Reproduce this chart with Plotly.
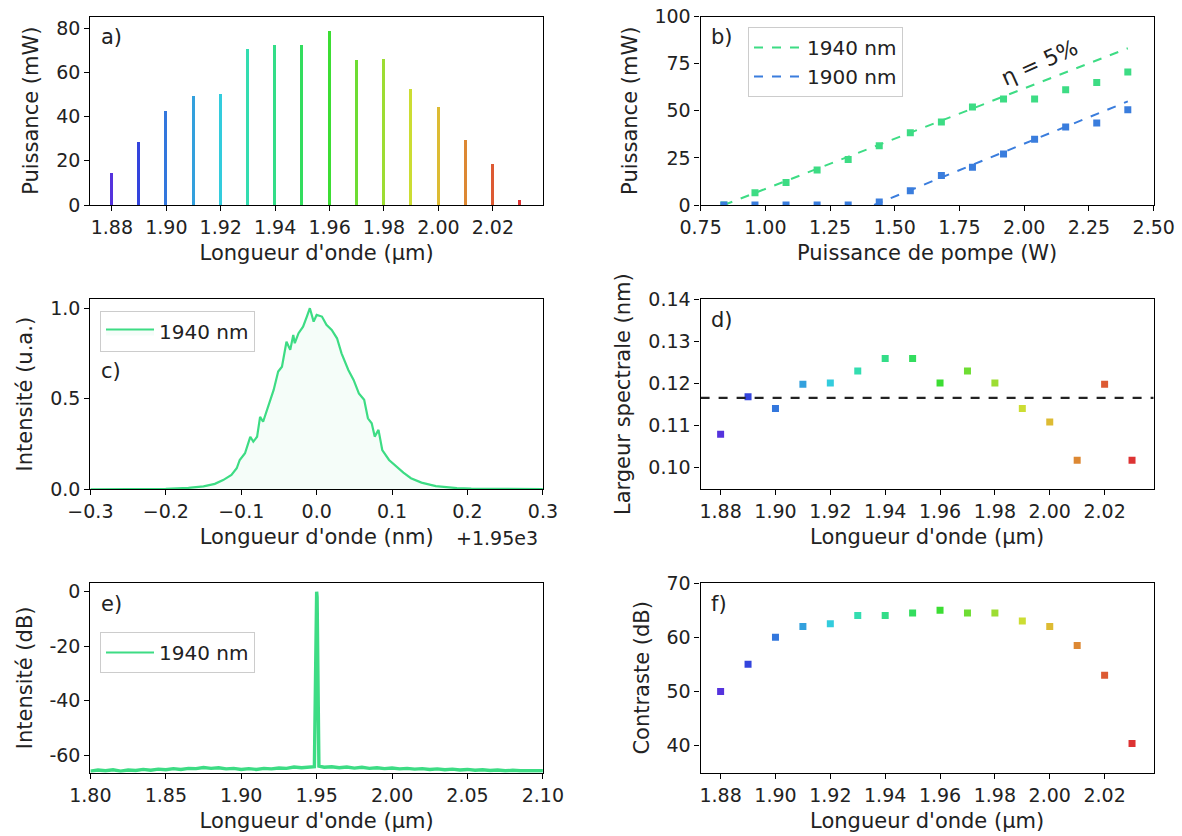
import numpy as np
import plotly.graph_objects as go
from plotly.subplots import make_subplots

# ---- données ----
# a) spectres laser (puissance crête par longueur d'onde)
wl_um = [1.88, 1.89, 1.90, 1.91, 1.92, 1.93, 1.94, 1.95, 1.96, 1.97, 1.98, 1.99, 2.00, 2.01, 2.02, 2.03]
puissance_mw = [14.6, 28.6, 42.6, 49.6, 50.5, 70.7, 72.8, 72.8, 78.8, 65.7, 66.5, 52.6, 44.7, 29.6, 18.6, 2.6]
couleurs = ['#5533dd', '#3344dd', '#3377dd', '#33a0dd', '#33ccdd', '#33ddb0', '#33dd88', '#33dd5e',
            '#3cdd33', '#6edd33', '#9ddd33', '#ccdd33', '#ddbb33', '#dd8833', '#dd5a33', '#dd3333']

# b) puissance de sortie vs pompe
pompe_w = [0.84, 0.96, 1.08, 1.20, 1.32, 1.44, 1.56, 1.68, 1.80, 1.92, 2.04, 2.16, 2.28, 2.40]
p_1940 = [0.0, 6.5, 12.0, 18.6, 24.2, 31.5, 38.4, 44.1, 52.0, 56.3, 56.3, 61.2, 65.0, 70.6]
p_1900 = [0.0, 0.0, 0.0, 0.0, 0.0, 1.6, 7.6, 15.6, 20.0, 27.1, 34.9, 41.4, 43.5, 50.6]
fit_x_1940 = [0.84, 2.40]
fit_y_1940 = [0.0, 83.2]
fit_x_1900 = [1.42, 2.40]
fit_y_1900 = [0.0, 55.0]

# c) spectre 1940 nm (décalage +1.95e3 nm)
spec_x = [-0.30, -0.25, -0.20, -0.17, -0.15, -0.135, -0.124, -0.113, -0.106, -0.102, -0.095,
          -0.088, -0.084, -0.079, -0.075, -0.071, -0.068, -0.062, -0.057, -0.051, -0.046,
          -0.040, -0.035, -0.031, -0.029, -0.024, -0.018, -0.013, -0.009, -0.004, 0.000,
          0.007, 0.013, 0.020, 0.027, 0.033, 0.042, 0.049, 0.056, 0.063, 0.068, 0.073,
          0.077, 0.082, 0.087, 0.096, 0.106, 0.115, 0.125, 0.139, 0.158, 0.186, 0.205, 0.25, 0.30]
spec_y = [0.0, 0.001, 0.003, 0.008, 0.016, 0.030, 0.051, 0.079, 0.116, 0.162, 0.199,
          0.290, 0.263, 0.290, 0.400, 0.373, 0.410, 0.493, 0.549, 0.650, 0.677,
          0.815, 0.770, 0.852, 0.807, 0.862, 0.898, 0.954, 1.000, 0.926, 0.963,
          0.954, 0.908, 0.880, 0.834, 0.751, 0.659, 0.604, 0.530, 0.494, 0.392, 0.365,
          0.291, 0.328, 0.217, 0.162, 0.125, 0.092, 0.061, 0.037, 0.018, 0.007, 0.004, 0.002, 0.001]

# d) largeur spectrale
largeur_nm = [0.1079, 0.1168, 0.1140, 0.1198, 0.1201, 0.1229, 0.1259, 0.1259,
              0.1201, 0.1229, 0.1201, 0.1140, 0.1108, 0.1017, 0.1198, 0.1017]

# e) spectre large bande en dB
spec_db_x = [1.800, 1.805, 1.810, 1.815, 1.820, 1.825, 1.830, 1.835, 1.840, 1.845, 1.850,
             1.855, 1.860, 1.865, 1.870, 1.875, 1.880, 1.885, 1.890, 1.895, 1.900, 1.905,
             1.910, 1.915, 1.920, 1.925, 1.930, 1.935, 1.940, 1.945, 1.9485, 1.9493, 1.9497,
             1.9500, 1.9503, 1.9507, 1.9515, 1.955, 1.960, 1.965, 1.970, 1.975, 1.980, 1.985,
             1.990, 1.995, 2.000, 2.005, 2.010, 2.015, 2.020, 2.025, 2.030, 2.035, 2.040,
             2.045, 2.050, 2.055, 2.060, 2.065, 2.070, 2.075, 2.080, 2.085, 2.090, 2.095, 2.100]
spec_db_y = [-65.9, -65.5, -65.8, -65.4, -65.9, -65.5, -65.7, -65.3, -65.6, -65.2, -65.4,
             -65.0, -65.3, -64.9, -65.0, -64.6, -64.9, -64.7, -65.1, -64.9, -65.3, -65.0,
             -65.3, -64.9, -65.1, -64.8, -64.9, -64.4, -64.7, -64.5, -64.3, -30.0, -2.0,
             0.0, -2.0, -30.0, -64.1, -64.5, -64.3, -64.7, -64.4, -64.8, -64.5, -64.9,
             -64.7, -65.0, -64.8, -65.1, -64.9, -65.2, -65.0, -65.3, -65.1, -65.4, -65.2,
             -65.5, -65.3, -65.6, -65.4, -65.7, -65.5, -65.8, -65.6, -65.8, -65.7, -65.9, -65.8]

# f) contraste
contraste_db = [50.0, 55.0, 60.0, 62.0, 62.5, 64.0, 64.0, 64.5, 65.0, 64.5, 64.5, 63.0, 62.0, 58.5, 53.0, 40.4]

VERT = '#3ddc84'
BLEU = '#3a7ddd'
W, H = 1182, 836
FONT = 'DejaVu Sans'


def px(x):
    return x / W


def py(y):
    return 1 - y / H


fig = make_subplots(rows=3, cols=2)

# a)
fig.add_trace(go.Bar(x=wl_um, y=puissance_mw, width=0.0011, marker=dict(color=couleurs, line=dict(width=0)),
                     showlegend=False), row=1, col=1)

# b)
fig.add_trace(go.Scatter(x=fit_x_1940, y=fit_y_1940, mode='lines', name='1940 nm',
                         line=dict(color=VERT, dash='dash', width=2), legend='legend'), row=1, col=2)
fig.add_trace(go.Scatter(x=fit_x_1900, y=fit_y_1900, mode='lines', name='1900 nm',
                         line=dict(color=BLEU, dash='dash', width=2), legend='legend'), row=1, col=2)
fig.add_trace(go.Scatter(x=pompe_w, y=p_1940, mode='markers', showlegend=False,
                         marker=dict(symbol='square', size=7, color=VERT)), row=1, col=2)
fig.add_trace(go.Scatter(x=pompe_w, y=p_1900, mode='markers', showlegend=False,
                         marker=dict(symbol='square', size=7, color=BLEU)), row=1, col=2)

# c)
fig.add_trace(go.Scatter(x=spec_x, y=spec_y, mode='lines', name='1940 nm', fill='tozeroy',
                         fillcolor='rgba(61,220,132,0.05)', line=dict(color=VERT, width=2.2),
                         legend='legend2'), row=2, col=1)

# d)
fig.add_trace(go.Scatter(x=wl_um, y=largeur_nm, mode='markers', showlegend=False,
                         marker=dict(symbol='square', size=7, color=couleurs)), row=2, col=2)
moy = float(np.mean(largeur_nm))
fig.add_trace(go.Scatter(x=[1.8727, 2.0379], y=[moy, moy], mode='lines', showlegend=False,
                         line=dict(color='#222222', dash='dash', width=2.2)), row=2, col=2)

# e)  (trait épais pour le spectre, trait fin dans la légende)
fig.add_trace(go.Scatter(x=spec_db_x, y=spec_db_y, mode='lines', showlegend=False,
                         line=dict(color=VERT, width=3.4)), row=3, col=1)
fig.add_trace(go.Scatter(x=[None], y=[None], mode='lines', name='1940 nm',
                         line=dict(color=VERT, width=2.2), legend='legend3'), row=3, col=1)

# f)
fig.add_trace(go.Scatter(x=wl_um, y=contraste_db, mode='markers', showlegend=False,
                         marker=dict(symbol='square', size=7, color=couleurs)), row=3, col=2)

# ---- axes ----
xl = [px(90.4), px(542.9)]
xr = [px(700.6), px(1153.7)]
r1 = [py(205), py(16.5)]
r2 = [py(489.3), py(299)]
r3 = [py(772.7), py(583)]

ax_common = dict(showline=True, linecolor='black', linewidth=1.3, mirror=True, ticks='outside',
                 ticklen=5, tickwidth=1.2, tickcolor='black', showgrid=False, zeroline=False,
                 tickfont=dict(family=FONT, size=19, color='#222'), automargin=False,
                 ticklabeloverflow='allow',
                 title_font=dict(family=FONT, size=21, color='#222'))

lab_um = "Longueur d'onde (µm)"
XS = 8
YS = 11
fig.update_layout(
    xaxis=dict(ax_common, domain=xl, range=[1.8721, 2.0384], tickvals=[1.88, 1.90, 1.92, 1.94, 1.96, 1.98, 2.00, 2.02],
               tickformat='.2f', title=dict(text=lab_um, standoff=XS)),
    yaxis=dict(ax_common, domain=r1, range=[0, 85.3], tickvals=[0, 20, 40, 60, 80],
               title=dict(text='Puissance (mW)', standoff=YS)),
    xaxis2=dict(ax_common, domain=xr, range=[0.75, 2.5], tickvals=[0.75, 1.0, 1.25, 1.5, 1.75, 2.0, 2.25, 2.5],
                tickformat='.2f', title=dict(text='Puissance de pompe (W)', standoff=XS)),
    yaxis2=dict(ax_common, domain=r1, range=[0, 100.05], tickvals=[0, 25, 50, 75, 100],
                title=dict(text='Puissance (mW)', standoff=YS)),
    xaxis3=dict(ax_common, domain=xl, range=[-0.3, 0.3], tickvals=[-0.3, -0.2, -0.1, 0.0, 0.1, 0.2, 0.3],
                tickformat='.1f', title=dict(text="Longueur d'onde (nm)", standoff=XS)),
    yaxis3=dict(ax_common, domain=r2, range=[0, 1.051], tickvals=[0, 0.5, 1.0], tickformat='.1f',
                title=dict(text='Intensité (u.a.)', standoff=YS)),
    xaxis4=dict(ax_common, domain=xr, range=[1.8727, 2.0379], tickvals=[1.88, 1.90, 1.92, 1.94, 1.96, 1.98, 2.00, 2.02],
                tickformat='.2f', title=dict(text=lab_um, standoff=XS)),
    yaxis4=dict(ax_common, domain=r2, range=[0.0948, 0.14005], tickvals=[0.10, 0.11, 0.12, 0.13, 0.14], tickformat='.2f',
                title=dict(text='Largeur spectrale (nm)', standoff=YS)),
    xaxis5=dict(ax_common, domain=xl, range=[1.8, 2.1], tickvals=[1.80, 1.85, 1.90, 1.95, 2.00, 2.05, 2.10],
                tickformat='.2f', title=dict(text=lab_um, standoff=XS)),
    yaxis5=dict(ax_common, domain=r3, range=[-66.5, 3.2], tickvals=[0, -20, -40, -60],
                ticktext=['0', '-20', '-40', '-60'], title=dict(text='Intensité (dB)', standoff=YS)),
    xaxis6=dict(ax_common, domain=xr, range=[1.8727, 2.0379], tickvals=[1.88, 1.90, 1.92, 1.94, 1.96, 1.98, 2.00, 2.02],
                tickformat='.2f', title=dict(text=lab_um, standoff=XS)),
    yaxis6=dict(ax_common, domain=r3, range=[35, 70.02], tickvals=[40, 50, 60, 70],
                title=dict(text='Contraste (dB)', standoff=YS)),
)

leg_common = dict(bgcolor='white', bordercolor='#cccccc', borderwidth=1, itemwidth=48,
                  font=dict(family=FONT, size=20, color='#222'), xanchor='left', yanchor='top')
fig.update_layout(
    legend=dict(leg_common, x=px(748), y=py(27)),
    legend2=dict(leg_common, x=px(100), y=py(311)),
    legend3=dict(leg_common, x=px(100), y=py(632)),
)

# étiquettes de panneaux, placées par rapport au coin haut-gauche de chaque axe
labels = [('a)', 'x', 'y'), ('b)', 'x2', 'y2'), ('c)', 'x3', 'y3'),
          ('d)', 'x4', 'y4'), ('e)', 'x5', 'y5'), ('f)', 'x6', 'y6')]
for txt, xa, ya in labels:
    dy = 0.38 if txt == 'c)' else 0.11
    fig.add_annotation(text=txt, x=0.018, y=1 - dy, xref=xa + ' domain', yref=ya + ' domain',
                       xanchor='left', yanchor='middle', showarrow=False,
                       font=dict(family=FONT, size=21, color='#222'))
fig.add_annotation(text='+1.95e3', x=px(497), y=py(538), xref='paper', yref='paper', showarrow=False,
                   font=dict(family=FONT, size=19, color='#222'))
fig.add_annotation(text='η = 5%', x=2.06, y=75.5, xref='x2', yref='y2', showarrow=False, textangle=-24,
                   font=dict(family=FONT, size=22, color='#222'))

fig.update_layout(width=W, height=H, margin=dict(l=0, r=0, t=0, b=0), plot_bgcolor='white',
                  paper_bgcolor='white', bargap=0)

# la page html a 8 px de marge par défaut sur le body : on la retire
fig.write_html("out.html", config={'displayModeBar': False},
               post_script="document.body.style.margin = '0px';")
